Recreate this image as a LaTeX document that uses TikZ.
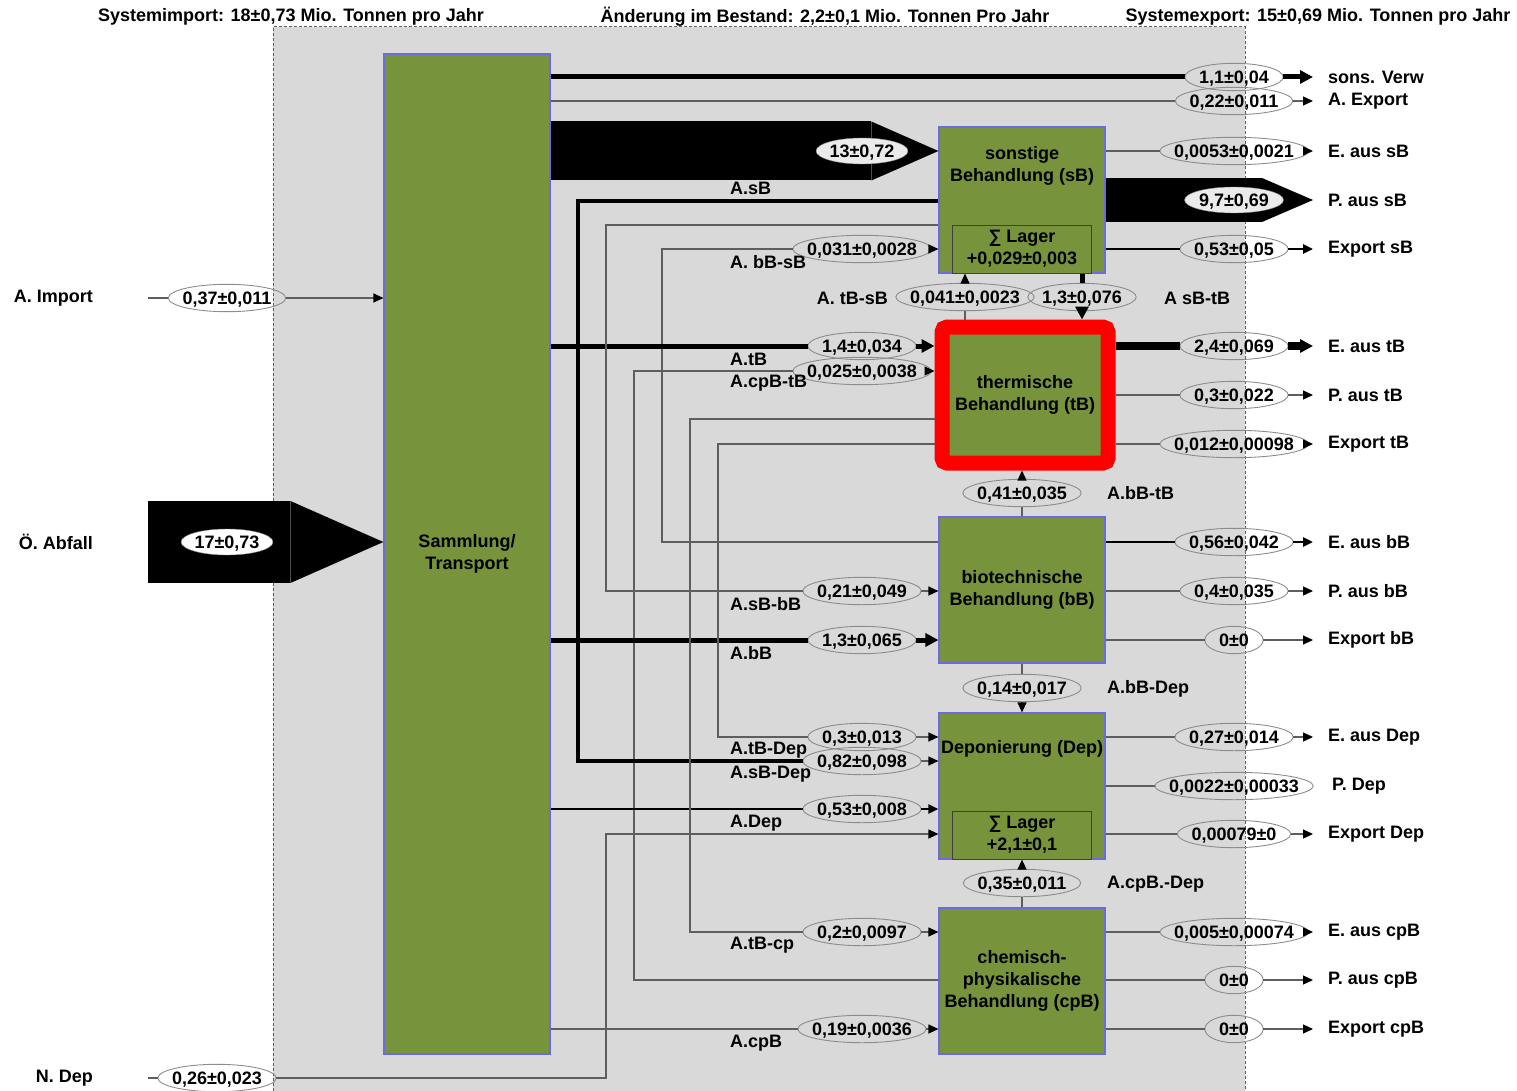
\documentclass[tikz,border=0pt]{standalone}
\usepackage{fontspec}
\setmainfont{Liberation Sans}
\usepackage{tikz}
\usetikzlibrary{arrows.meta, positioning, calc, shapes.geometric}
\usepackage{xcolor}
\definecolor{olivebox}{HTML}{77933C}
\definecolor{boxline}{HTML}{6B6BE0}
\definecolor{sysgray}{HTML}{D9D9D9}
\definecolor{flowgray}{HTML}{5E5E5E}
\definecolor{ellgray}{HTML}{8C8C8C}
\definecolor{ellfill}{HTML}{EBEBEB}
\definecolor{alarm}{HTML}{FF0000}

\begin{document}
\begin{tikzpicture}[x=1pt, y=-1pt,
        txt/.style={font=\fontsize{18}{22}\selectfont\bfseries, inner sep=2pt},
        box/.style={txt, rectangle, draw=boxline, line width=1.2pt, fill=olivebox,
                    minimum width=166pt, minimum height=146pt, align=center, inner sep=0pt},
        lager/.style={txt, rectangle, draw=black!75, line width=1pt, fill=olivebox,
                      minimum width=139pt, minimum height=48pt, align=center, inner sep=0pt},
        ellring/.style={draw=ellgray, line width=0.9pt,
                        to path={let \p1=(\tikztostart), \p2=(\tikztotarget) in
                          ($(\p1)!0.5!(\p2)$) ellipse [x radius={(\x1-\x2)/2}, y radius={(\y1-\y2)/2}]}},
        val/.style={txt, inner xsep=14pt, inner ysep=0pt, minimum height=27pt,
                    text height=13pt, text depth=0pt,
                    append after command={(\tikzlastnode.north east) edge[ellring] (\tikzlastnode.south west)}},
        bigval/.style={txt, ellipse, draw=ellgray, fill=ellfill, inner sep=0pt, minimum height=26pt,
                       text height=13pt, text depth=0pt},
        outlbl/.style={txt, anchor=west, inner xsep=15pt, inner ysep=0pt},
        inlbl/.style={txt, anchor=east},
        flowlbl/.style={txt, anchor=west},
        thinflow/.style={draw=flowgray, line width=1.2pt},
        midflow/.style={draw=black, line width=2.5pt},
        strongflow/.style={draw=black, line width=3.5pt},
        thickflow/.style={draw=black, line width=5pt},
        heavyflow/.style={draw=black, line width=8pt},
        headthin/.style={-{Triangle[length=10pt,width=9pt,color=black]}},
        headthick/.style={-{Triangle[length=13pt,width=13pt,color=black]}},
      ]
  \useasboundingbox (0,0) rectangle (1517,1091);
  \fill[sysgray] (273,27) rectangle (1245,1091);
  \draw[flowgray, line width=1pt, dash pattern=on 3pt off 2pt] (273,1091) -- (273,27) -- (1245,27) -- (1245,1091);

  \node[txt] (hImp) at (291,17) {Systemimport: 18±0,73 Mio. Tonnen pro Jahr};
  \node[txt] (hBest) at (825,17) {Änderung im Bestand: 2,2±0,1 Mio. Tonnen Pro Jahr};
  \node[txt] (hExp) at (1318,17) {Systemexport: 15±0,69 Mio. Tonnen pro Jahr};

  \node[box, minimum height=1000pt] (samm) at (467,554) {Sammlung/\\Transport};
  \node[box] (sB) at (1022,200) {};
  \node[txt, align=center, below=18pt of sB.north] (sBtxt) {sonstige\\Behandlung (sB)};
  \node[lager, above=0pt of sB.south] (sBlag) {∑ Lager\\+0,029±0,003};
  \node[box, draw=alarm, line width=15pt, rounded corners=5pt, minimum height=136pt] (tB) at (1025,395) {thermische\\Behandlung (tB)};
  \node[box] (bB) at (1022,590) {biotechnische\\Behandlung (bB)};
  \node[box] (Dep) at (1022,786) {};
  \node[txt, below=26pt of Dep.north] (Deptxt) {Deponierung (Dep)};
  \node[lager, above=0pt of Dep.south] (Deplag) {∑ Lager\\+2,1±0,1};
  \node[box] (cpB) at (1022,981) {chemisch-\\physikalische\\Behandlung (cpB)};

  \coordinate (iImp) at (148,298);
  \node[inlbl] (lImp) at (95,298) {A. Import};
  \node[val] (vImp) at (227,298) {0,37±0,011};
  \draw[thinflow, headthin] (iImp) -- (vImp) -- (samm.west |- iImp);

  \coordinate (iAbf) at (148,542);
  \node[inlbl] (lAbf) at (95,542) {Ö. Abfall};
  \draw[black, line width=82pt, -{Triangle[length=93pt,width=82pt,line width=0pt]}] (iAbf) -- (samm.west |- iAbf);
  \node[bigval, fill=white] (vAbf) at (227,542) {17±0,73};

  \coordinate (iNDep) at (148,1078);
  \node[inlbl] (lNDep) at (95,1078) {N. Dep};
  \node[val] (vNDep) at (217,1078) {0,26±0,023};
  \draw[thinflow, headthin] (iNDep) -- (vNDep) -| (606,834) -- (Dep.west |- 0,834);

  \node[val] (vVerw) at (1234,77) {1,1±0,04};
  \node[outlbl] (lVerw) at (1313,77) {sons. Verw};
  \draw[thickflow, headthick] (samm.east |- vVerw) -- (vVerw) -- (lVerw);
  \node[val] (vAExp) at (1234,101) {0,22±0,011};
  \node[outlbl] (lAExp) at (1313,101) {A. Export};
  \draw[thinflow, headthin] (samm.east |- vAExp) -- (vAExp) -- (lAExp);

  \draw[black, line width=59pt, -{Triangle[length=67pt,width=59pt,line width=0pt]}] (samm.east |- 0,151) -- (sB.west |- 0,151);
  \node[bigval] (vAsB) at (862,151) {13±0,72};
  \node[flowlbl] (lAsB) at (728,188) {A.sB};

  \node[val] (vbBsB) at (862,249) {0,031±0,0028};
  \node[flowlbl] (lbBsB) at (728,262) {A. bB-sB};
  \draw[thinflow, headthin] (bB.west |- 0,542) -| (662,249) -- (vbBsB) -- (sB.west |- vbBsB);

  \node[val] (vAtB) at (862,346) {1,4±0,034};
  \node[flowlbl] (lAtB) at (728,359) {A.tB};
  \draw[thickflow, headthick] (samm.east |- vAtB) -- (vAtB) -- (tB.west |- vAtB);

  \node[val] (vcpBtB) at (862,371) {0,025±0,0038};
  \node[flowlbl] (lcpBtB) at (728,383) {A.cpB-tB};
  \draw[thinflow, headthin] (cpB.west |- 0,980) -| (634,371) -- (vcpBtB) -- (tB.west |- vcpBtB);

  \node[val] (vsBbB) at (862,591) {0,21±0,049};
  \node[flowlbl] (lsBbB) at (728,604) {A.sB-bB};
  \draw[thinflow, headthin] (sB.west |- 0,225) -| (606,591) -- (vsBbB) -- (bB.west |- vsBbB);

  \node[val] (vAbB) at (862,640) {1,3±0,065};
  \node[flowlbl] (lAbB) at (728,653) {A.bB};
  \draw[thickflow, headthick] (samm.east |- vAbB) -- (vAbB) -- (bB.west |- vAbB);

  \node[val] (vtBDep) at (862,737) {0,3±0,013};
  \node[flowlbl] (ltBDep) at (728,750) {A.tB-Dep};
  \draw[thinflow, headthin] (tB.west |- 0,444) -| (718,737) -- (vtBDep) -- (Dep.west |- vtBDep);

  \node[val] (vsBDep) at (862,761) {0,82±0,098};
  \node[flowlbl] (lsBDep) at (728,774) {A.sB-Dep};
  \draw[strongflow] (sB.west |- 0,201) -| (578,761) -- (vsBDep);
  \draw[thinflow, headthin] (vsBDep) -- (Dep.west |- vsBDep);

  \node[val] (vADep) at (862,809) {0,53±0,008};
  \node[flowlbl] (lADep) at (728,823) {A.Dep};
  \draw[midflow, headthin] (samm.east |- vADep) -- (vADep) -- (Dep.west |- vADep);

  \node[val] (vtBcp) at (862,932) {0,2±0,0097};
  \node[flowlbl] (ltBcp) at (728,945) {A.tB-cp};
  \draw[thinflow, headthin] (tB.west |- 0,419) -| (690,932) -- (vtBcp) -- (cpB.west |- vtBcp);

  \node[val] (vAcpB) at (862,1029) {0,19±0,0036};
  \node[flowlbl] (lAcpB) at (728,1043) {A.cpB};
  \draw[thinflow, headthin] (samm.east |- vAcpB) -- (vAcpB) -- (cpB.west |- vAcpB);

  \node[val] (vtBsB) at (965,297) {0,041±0,0023};
  \node[inlbl] (ltBsB) at (890,298) {A. tB-sB};
  \draw[thinflow, headthin] (tB.north -| vtBsB) -- (vtBsB) -- (sB.south -| vtBsB);
  \node[val] (vsBtB) at (1082,297) {1,3±0,076};
  \node[flowlbl] (lsBtB) at (1162,298) {A sB-tB};
  \draw[thickflow, headthick] (sB.south -| vsBtB) -- (vsBtB) -- (tB.north -| vsBtB);

  \node[val] (vbBtB) at (1022,493) {0,41±0,035};
  \node[flowlbl] (lbBtB) at (1105,493) {A.bB-tB};
  \draw[thinflow, headthin] (bB.north) -- (vbBtB) -- (tB.south -| vbBtB);
  \node[val] (vbBDep) at (1022,688) {0,14±0,017};
  \node[flowlbl] (lbBDep) at (1105,689) {A.bB-Dep};
  \draw[thinflow, headthin] (bB.south) -- (vbBDep) -- (Dep.north);
  \node[val] (vcpBDep) at (1022,883) {0,35±0,011};
  \node[flowlbl] (lcpBDep) at (1105,884) {A.cpB.-Dep};
  \draw[thinflow, headthin] (cpB.north) -- (vcpBDep) -- (Dep.south);

  \node[val] (vEsB) at (1234,151) {0,0053±0,0021};
  \node[outlbl] (lEsB) at (1313,151) {E. aus sB};
  \draw[thinflow, headthin] (sB.east |- vEsB) -- (vEsB) -- (lEsB);
  \node[outlbl] (lPsB) at (1313,200) {P. aus sB};
  \draw[black, line width=44pt, -{Triangle[length=51pt,width=44pt,line width=0pt]}] (sB.east |- lPsB) -- (lPsB);
  \node[bigval] (vPsB) at (1234,200) {9,7±0,69};
  \node[val] (vXsB) at (1234,249) {0,53±0,05};
  \node[outlbl] (lXsB) at (1313,249) {Export sB};
  \draw[midflow, headthin] (sB.east |- vXsB) -- (vXsB) -- (lXsB);

  \node[val] (vEtB) at (1234,346) {2,4±0,069};
  \node[outlbl] (lEtB) at (1313,346) {E. aus tB};
  \draw[heavyflow, headthick] (tB.east |- vEtB) -- (vEtB) -- (lEtB);
  \node[val] (vPtB) at (1234,395) {0,3±0,022};
  \node[outlbl] (lPtB) at (1313,395) {P. aus tB};
  \draw[thinflow, headthin] (tB.east |- vPtB) -- (vPtB) -- (lPtB);
  \node[val] (vXtB) at (1234,444) {0,012±0,00098};
  \node[outlbl] (lXtB) at (1313,444) {Export tB};
  \draw[thinflow, headthin] (tB.east |- vXtB) -- (vXtB) -- (lXtB);

  \node[val] (vEbB) at (1234,542) {0,56±0,042};
  \node[outlbl] (lEbB) at (1313,542) {E. aus bB};
  \draw[midflow, headthin] (bB.east |- vEbB) -- (vEbB) -- (lEbB);
  \node[val] (vPbB) at (1234,591) {0,4±0,035};
  \node[outlbl] (lPbB) at (1313,591) {P. aus bB};
  \draw[thinflow, headthin] (bB.east |- vPbB) -- (vPbB) -- (lPbB);
  \node[val] (vXbB) at (1234,640) {0±0};
  \node[outlbl] (lXbB) at (1313,640) {Export bB};
  \draw[thinflow, headthin] (bB.east |- vXbB) -- (vXbB) -- (lXbB);

  \node[val] (vEDep) at (1234,737) {0,27±0,014};
  \node[outlbl] (lEDep) at (1313,737) {E. aus Dep};
  \draw[thinflow, headthin] (Dep.east |- vEDep) -- (vEDep) -- (lEDep);
  \node[val] (vPDep) at (1234,786) {0,0022±0,00033};
  \node[outlbl] (lPDep) at (1317,786) {P. Dep};
  \draw[thinflow] (Dep.east |- vPDep) -- (vPDep);
  \node[val] (vXDep) at (1234,834) {0,00079±0};
  \node[outlbl] (lXDep) at (1313,834) {Export Dep};
  \draw[thinflow, headthin] (Dep.east |- vXDep) -- (vXDep) -- (lXDep);

  \node[val] (vEcpB) at (1234,932) {0,005±0,00074};
  \node[outlbl] (lEcpB) at (1313,932) {E. aus cpB};
  \draw[thinflow, headthin] (cpB.east |- vEcpB) -- (vEcpB) -- (lEcpB);
  \node[val] (vPcpB) at (1234,980) {0±0};
  \node[outlbl] (lPcpB) at (1313,980) {P. aus cpB};
  \draw[thinflow, headthin] (cpB.east |- vPcpB) -- (vPcpB) -- (lPcpB);
  \node[val] (vXcpB) at (1234,1029) {0±0};
  \node[outlbl] (lXcpB) at (1313,1029) {Export cpB};
  \draw[thinflow, headthin] (cpB.east |- vXcpB) -- (vXcpB) -- (lXcpB);
\end{tikzpicture}
\end{document}
